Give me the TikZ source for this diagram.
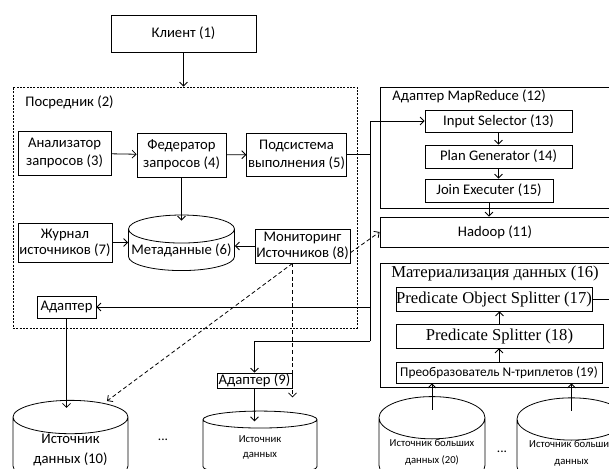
\documentclass[tikz,border=0pt]{standalone}
\usepackage{fontspec}
\setmainfont{Carlito}
\newfontfamily\tnr{Liberation Serif}
\usetikzlibrary{arrows.meta,shapes.geometric}
\tikzset{
  blk/.style={draw, inner sep=1pt, align=center, font=\fontsize{11}{13.5}\selectfont},
  db/.style={draw, cylinder, shape border rotate=90, inner sep=0pt, align=center, font=\fontsize{11}{15}\selectfont},
  lbl/.style={anchor=west, inner sep=0pt, font=\fontsize{11}{13}\selectfont},
  serif/.style={font=\tnr\fontsize{12.5}{14}\selectfont},
  arr/.style={-{Straight Barb[length=3pt,width=6pt]}},
  darr/.style={arr, dash pattern=on 3pt off 2pt},
}

\begin{document}
\begin{tikzpicture}[x=0.75pt,y=-0.75pt,line width=0.6pt]
\useasboundingbox (0,0) rectangle (609,468);
\clip (0,0) rectangle (609,468);
\node[blk, minimum width=108.75pt, minimum height=27.75pt] (cl) at (183.5,33.5) {Клиент (1)};
\node[draw, dash pattern=on 1.5pt off 1pt, minimum width=258pt, minimum height=180.75pt] (med) at (185,207.5) {};
\node[lbl] (medl) at (25,102) {Посредник (2)};
\node[blk, minimum width=69.75pt, minimum height=33pt] (an) at (64.5,153) {Анализатор\\запросов (3)};
\node[blk, minimum width=66.75pt, minimum height=33pt] (fed) at (181.5,155) {Федератор\\запросов (4)};
\node[blk, minimum width=74.25pt, minimum height=32.25pt] (ex) at (296.5,154.5) {Подсистема\\выполнения (5)};
\node[db, aspect=0.28, minimum width=79.5pt, minimum height=39.75pt] (md) at (181.5,250) {Метаданные (6)};
\node[blk, font=\fontsize{11}{12}\selectfont, minimum width=70.5pt, minimum height=29.25pt] (jr) at (65,242.5) {Журнал\\источников (7)};
\node[blk, font=\fontsize{11}{12}\selectfont, minimum width=68.25pt, minimum height=25.5pt] (mon) at (302.5,246) {Мониторинг\\Источников (8)};
\node[blk, minimum width=44.25pt, minimum height=16.5pt] (ad) at (66.5,307) {Адаптер};
\node[blk, inner sep=0pt, minimum width=56.25pt, minimum height=11.25pt] (ad9) at (254.5,380.5) {Адаптер (9)};
\node[db, aspect=0.45, minimum width=86.25pt, minimum height=55.5pt] (s10) at (70.5,450) {Источник\\данных (10)};
\node[db, aspect=0.4, font=\fontsize{8}{11}\selectfont, minimum width=85.5pt, minimum height=48pt] (s2) at (260,447.5) {Источник\\данных};
\node (d1) at (163,440) {...};
\draw[arr] (cl) -- (cl |- med.north);
\draw[arr] (an) -- (fed);
\draw[arr] (fed) -- ([yshift=-4.5pt]md.north);
\draw[arr] (fed) -- (ex);
\draw[arr] (jr) -- (jr -| md.west);
\draw[arr] (mon) -- (mon -| md.east);
\draw[arr] (ad) -- ([yshift=-6pt]ad |- s10.north);
\draw[arr] (ad9) -- ([yshift=-8pt]ad9 |- s2.north);

\node[draw, minimum width=180pt, minimum height=90.75pt] (mr) at (500,147.5) {};
\node[lbl] (mrl) at (392,96.5) {Адаптер MapReduce (12)};
\node[blk, minimum width=110.25pt, minimum height=16.5pt] (is) at (498.5,121) {Input Selector (13)};
\node[blk, minimum width=110.25pt, minimum height=17.25pt] (pg) at (498.5,156.5) {Plan Generator (14)};
\node[blk, minimum width=96pt, minimum height=17.25pt] (je) at (489,190.5) {Join Executer (15)};
\node[blk, minimum width=172.5pt, minimum height=22.5pt] (hd) at (495,232) {Hadoop (11)};
\draw[arr] (is) -- (pg);
\draw[arr] (pg) -- (pg |- je.north);
\draw[arr] (je) -- (je |- hd.north);

\node[draw, minimum width=180pt, minimum height=93pt] (mat) at (500,325) {};
\node[lbl, serif] (matl) at (391,273) {Материализация данных (16)};
\node[blk, serif, inner sep=0pt, minimum width=147pt, minimum height=18pt] (pos) at (494,299) {Predicate Object Splitter (17)};
\node[blk, serif, minimum width=155.25pt, minimum height=18pt] (ps) at (499.5,336) {Predicate Splitter (18)};
\node[blk, font=\fontsize{10}{12}\selectfont, inner sep=0pt, minimum width=154.5pt, minimum height=15.75pt] (nt) at (499,372.5) {Преобразователь N-триплетов (19)};
\node[db, aspect=0.5, font=\fontsize{8}{12.75}\selectfont, minimum width=79.5pt, minimum height=45pt] (b1) at (432,452.25) {Источник больших\\данных (20)};
\node[db, aspect=0.5, font=\fontsize{8}{12.75}\selectfont, minimum width=81.75pt, minimum height=42pt] (b2) at (571.5,453.5) {Источник больших\\данных};
\node (d2) at (502,452) {...};
\coordinate (po) at (612,299);
\draw (pos) -- (po);
\draw[arr] (ps.north) -- (ps.north |- pos.south);
\draw[arr] (nt) -- (nt |- ps.south);
\draw[arr] ([yshift=-10pt]b1.north) -- (b1.north |- nt.south);
\draw[arr] ([yshift=-10pt]b2.north) -- (b2.north |- nt.south);

\coordinate (bb) at (370,341);
\draw (ex) -- (ex -| bb);
\draw[arr] (bb) |- (is);
\draw[arr] (ad -| bb) -- (ad);
\draw[arr] (bb) -| (ad9);
\coordinate (st) at (107,401);
\draw[darr] ([yshift=-5pt]mon.east) -- (hd.west);
\draw[darr] ([xshift=-7.5pt]mon.south) -- (st);
\draw[darr] ([xshift=-7.5pt]mon.south) -- ++(0,134);
\end{tikzpicture}
\end{document}
